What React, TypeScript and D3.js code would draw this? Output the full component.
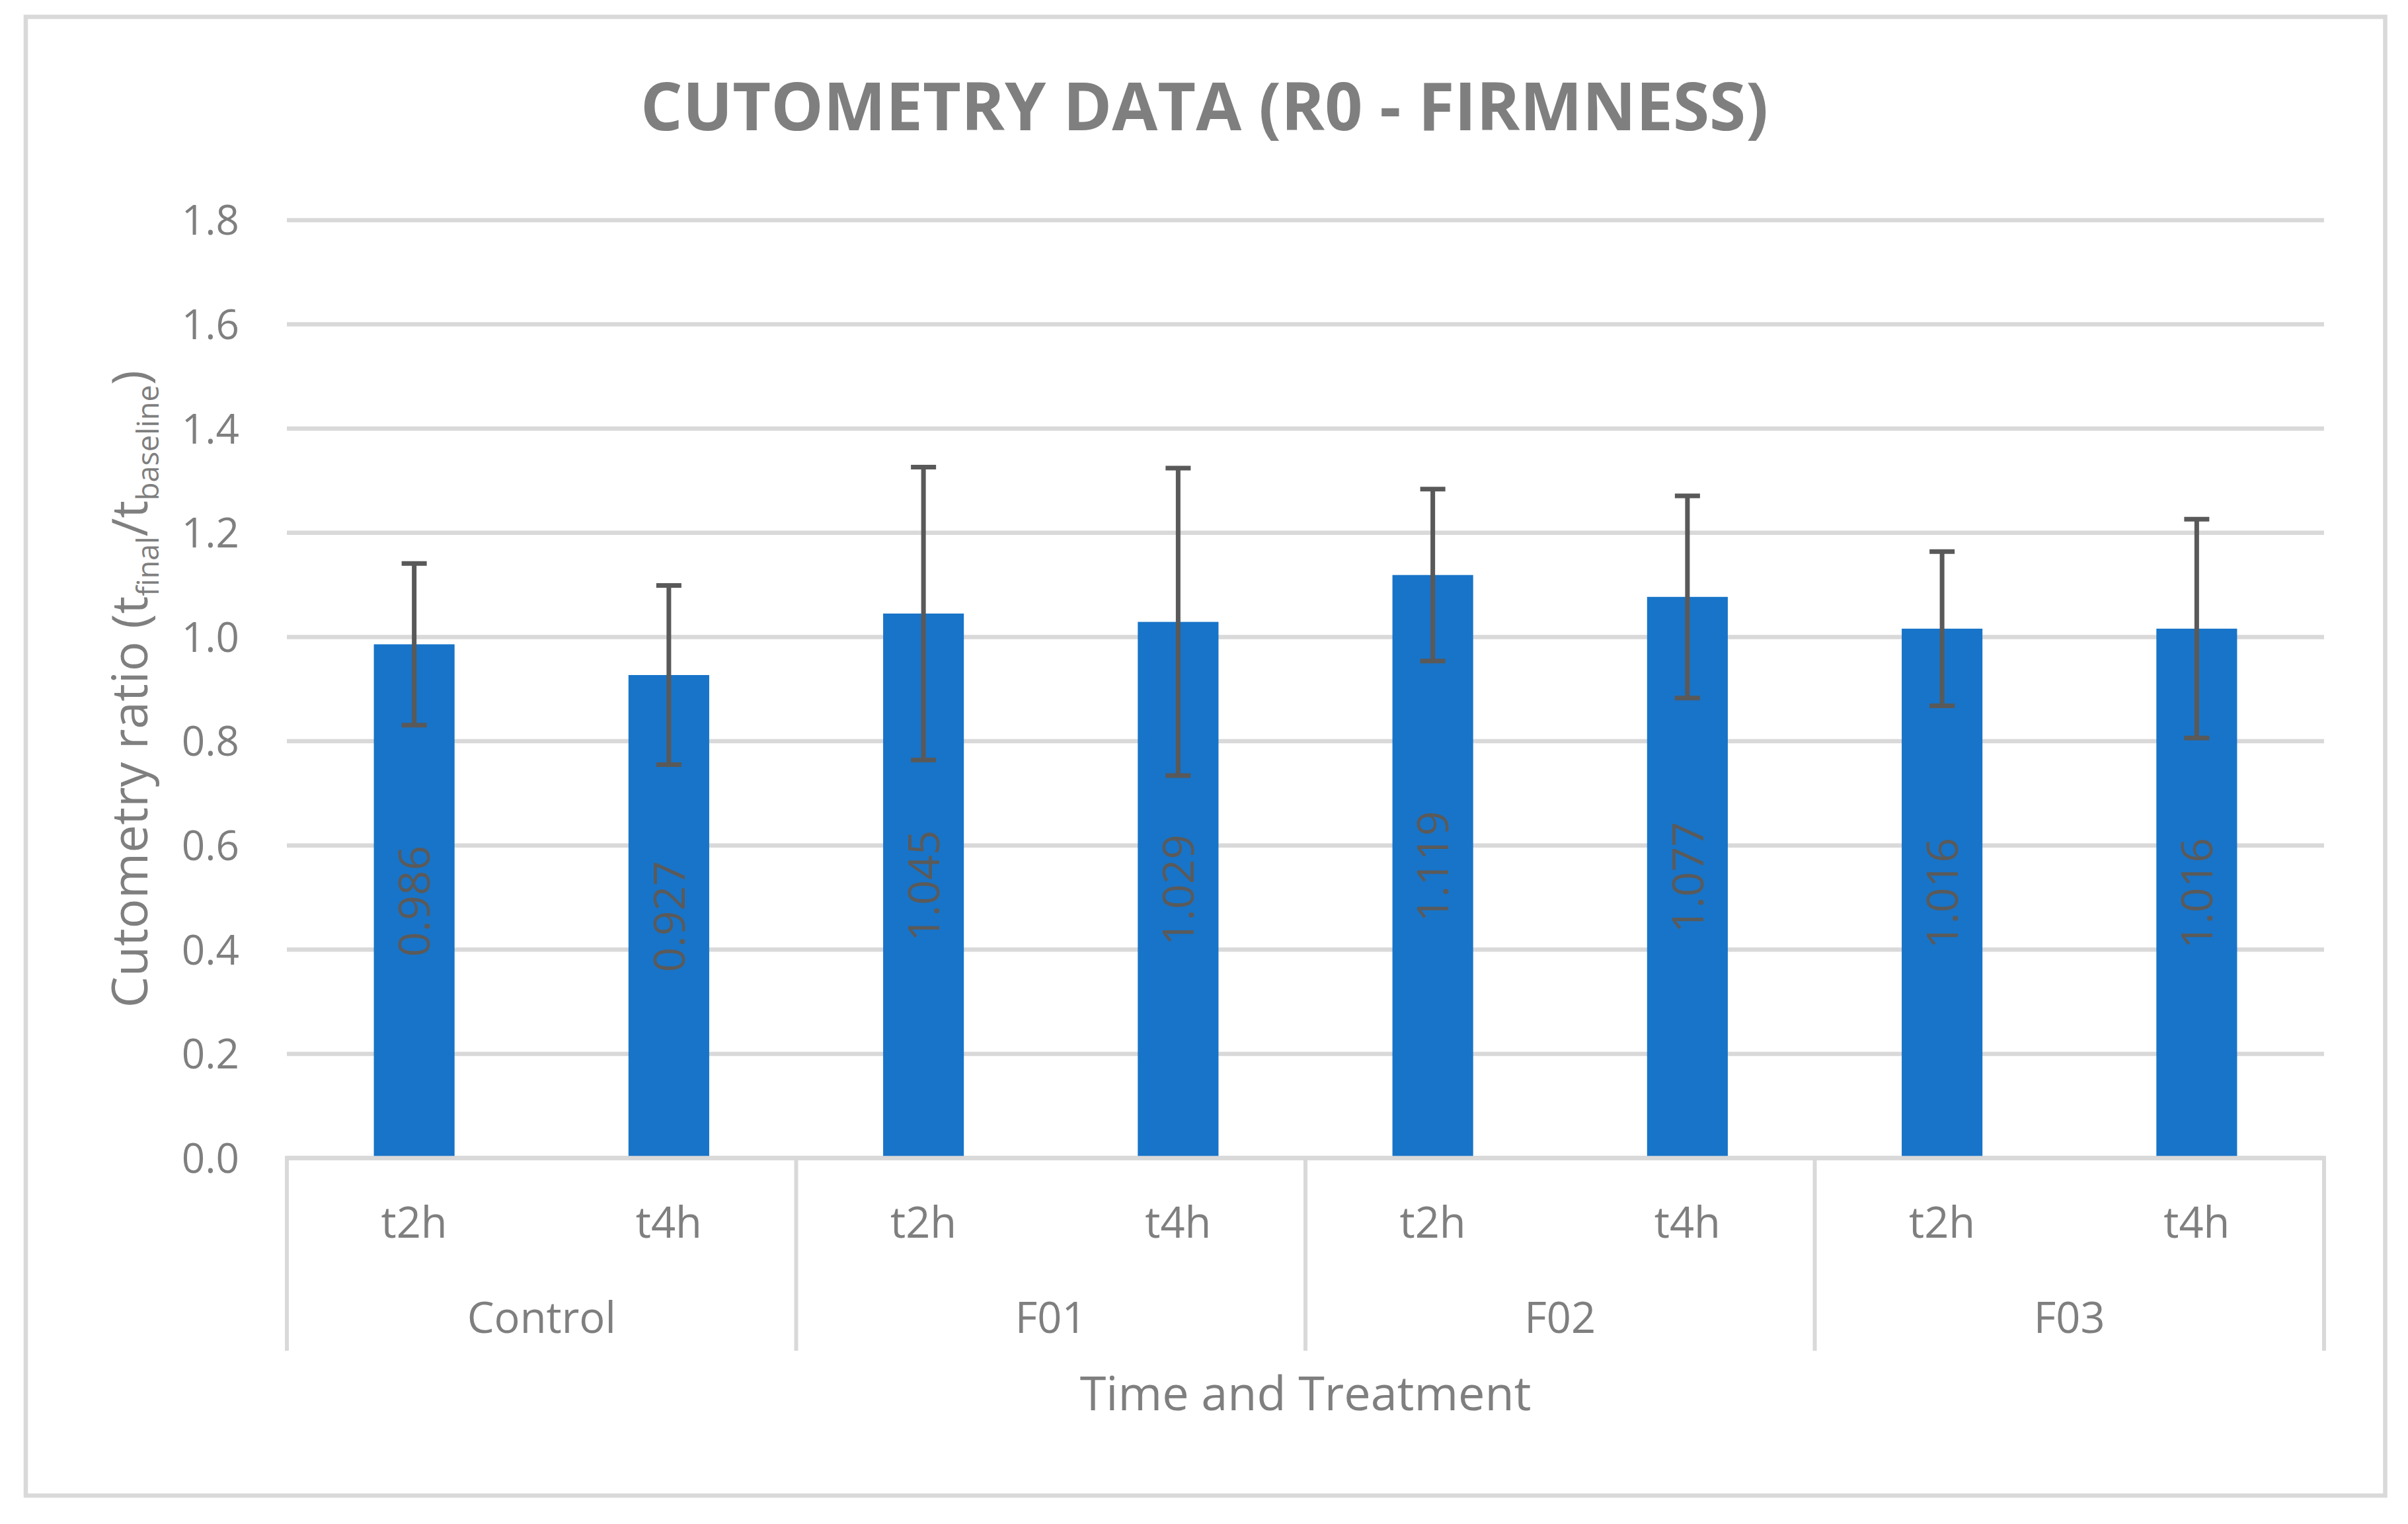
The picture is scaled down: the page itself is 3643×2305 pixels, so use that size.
import React from "react";
import * as d3 from "d3";

const groups = ["Control", "F01", "F02", "F03"];
const times = ["t2h", "t4h"];
const means = [0.986, 0.927, 1.045, 1.029, 1.119, 1.077, 1.016, 1.016];
const errors = [0.155, 0.172, 0.281, 0.295, 0.165, 0.194, 0.148, 0.21];
const yTicks = [0, 0.2, 0.4, 0.6, 0.8, 1.0, 1.2, 1.4, 1.6, 1.8];
const labelText = ["0.986", "0.927", "1.045", "1.029", "1.119", "1.077", "1.016", "1.016"];

const W = 3643;
const H = 2305;
const FONT = "'Open Sans', 'Noto Sans', sans-serif";
const TEXT = "#7F7F7F";
const GRID = "#D9D9D9";
const BAR = "#1874C8";
const ERR = "#595959";

export default function App() {
  const left = 434;
  const right = 3516;
  const top = 333;
  const bottom = 1751.5;

  const keys: string[] = [];
  groups.forEach((g) => times.forEach((t) => keys.push(g + "|" + t)));

  const x = d3.scaleBand<string>().domain(keys).range([left, right]).paddingInner(0.683).paddingOuter(0.3415);
  const xg = d3.scaleBand<string>().domain(groups).range([left, right]).padding(0);
  const y = d3.scaleLinear().domain([0, 1.8]).range([bottom, top]);
  const bw = x.bandwidth();
  const capHalf = 19;

  return (
    <svg
      width={W}
      height={H}
      viewBox={`0 0 ${W} ${H}`}
      style={{ position: "absolute", left: 0, top: 0, background: "#fff" }}
      fontFamily={FONT}
    >
      <rect x={0} y={0} width={W} height={H} fill="#fff" />
      <rect x={39} y={25.5} width={3608.5 - 39} height={2262 - 25.5} fill="#fff" stroke={GRID} strokeWidth={6.5} />

      <text x={1822} y={197} textAnchor="middle" fontSize={100} fontWeight={700} fill={TEXT}>
        CUTOMETRY DATA (R0 - FIRMNESS)
      </text>

      {/* gridlines */}
      {yTicks.map((t) => (
        <line key={"g" + t} x1={left} x2={right} y1={y(t)} y2={y(t)} stroke={GRID} strokeWidth={6.5} />
      ))}
      {yTicks.map((t) => (
        <text key={"t" + t} x={362} y={y(t)} dy="0.36em" textAnchor="end" fontSize={62} fill={TEXT}>
          {d3.format(".1f")(t)}
        </text>
      ))}

      {/* bars */}
      {keys.map((k, i) => (
        <rect key={"b" + k} x={x(k)} y={y(means[i])} width={bw} height={y(0) - y(means[i])} fill={BAR} />
      ))}

      {/* data labels */}
      {keys.map((k, i) => {
        const cx = (x(k) as number) + bw / 2;
        const cy = (y(means[i]) + y(0)) / 2;
        return (
          <text
            key={"l" + k}
            transform={`translate(${cx},${cy}) rotate(-90)`}
            textAnchor="middle"
            dy="0.36em"
            fontSize={66}
            fill="#5A5A5A"
          >
            {labelText[i]}
          </text>
        );
      })}

      {/* error bars */}
      {keys.map((k, i) => {
        const cx = (x(k) as number) + bw / 2;
        const hi = y(means[i] + errors[i]);
        const lo = y(means[i] - errors[i]);
        return (
          <g key={"e" + k} stroke={ERR} strokeWidth={7}>
            <line x1={cx} x2={cx} y1={hi} y2={lo} />
            <line x1={cx - capHalf} x2={cx + capHalf} y1={hi} y2={hi} />
            <line x1={cx - capHalf} x2={cx + capHalf} y1={lo} y2={lo} />
          </g>
        );
      })}

      {/* category axis */}
      <line x1={left - 3} x2={right + 3} y1={bottom} y2={bottom} stroke={GRID} strokeWidth={6.5} />
      {groups.map((g) => (
        <line
          key={"s" + g}
          x1={xg(g)}
          x2={xg(g)}
          y1={bottom}
          y2={2043}
          stroke={GRID}
          strokeWidth={6}
        />
      ))}
      <line x1={right} x2={right} y1={bottom} y2={2043} stroke={GRID} strokeWidth={6} />

      {keys.map((k, i) => (
        <text
          key={"c" + k}
          x={(x(k) as number) + bw / 2}
          y={1872}
          textAnchor="middle"
          fontSize={65}
          fill={TEXT}
        >
          {times[i % 2]}
        </text>
      ))}
      {groups.map((g) => (
        <text
          key={"gl" + g}
          x={(xg(g) as number) + xg.bandwidth() / 2}
          y={2016}
          textAnchor="middle"
          fontSize={65}
          fill={TEXT}
        >
          {g}
        </text>
      ))}

      <text x={(left + right) / 2} y={2133} textAnchor="middle" fontSize={72} fill={TEXT}>
        Time and Treatment
      </text>

      <text
        transform={`translate(223,${(top + bottom) / 2}) rotate(-90)`}
        textAnchor="middle"
        fontSize={75}
        fill={TEXT}
      >
        Cutometry ratio (t
        <tspan fontSize={45} dy={17}>final</tspan>
        <tspan dy={-17}>/t</tspan>
        <tspan fontSize={45} dy={17}>baseline</tspan>
        <tspan dy={-17}>)</tspan>
      </text>
    </svg>
  );
}
